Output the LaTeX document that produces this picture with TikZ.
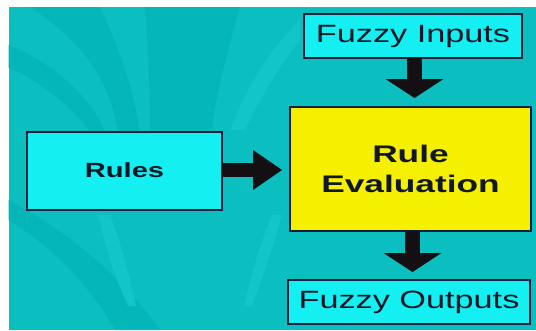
\documentclass[tikz,border=0pt]{standalone}
\usepackage{fontspec}
\usetikzlibrary{arrows.meta,calc}

% wide sans faces for the box labels
\newfontfamily\fuzzyfont[FakeStretch=1.37]{Liberation Sans}
\newfontfamily\rulesfont[FakeStretch=1.42]{Liberation Sans}
\newfontfamily\evalfont[FakeStretch=1.47]{Liberation Sans}

\definecolor{bgteal}{HTML}{0BBFC1}
\definecolor{banddark}{HTML}{05B6B9}
\definecolor{bandlight}{HTML}{12C5C6}
\definecolor{boxcyan}{HTML}{14F0F2}
\definecolor{evalyellow}{HTML}{F4F000}
\definecolor{edgecol}{HTML}{10203A}
\definecolor{inkcol}{HTML}{101828}
\definecolor{arrowcol}{HTML}{140F12}

\tikzset{
  block/.style={draw=edgecol, line width=1.3pt, inner sep=0pt, outer sep=0pt,
    text=inkcol, align=center},
  cyanbox/.style={block, fill=boxcyan},
  yellowbox/.style={block, fill=evalyellow},
  downarrow/.style={draw=arrowcol, line width=15pt,
    -{Triangle[width=58pt, length=19pt, line width=0pt]}},
  rightarrow/.style={draw=arrowcol, line width=14.5pt,
    -{Triangle[width=40pt, length=29pt, line width=0pt]}},
}

\begin{document}
\begin{tikzpicture}[x=1pt, y=-1pt]
\useasboundingbox (0,0) rectangle (536,330);
\fill[white] (0,0) rectangle (536,330);
\fill[bgteal] (8.5,7) rectangle (536,330);

% sweeping bands of the backdrop
\begin{scope}
  \clip (8.5,7) rectangle (536,330);
  \fill[banddark] (30,7) .. controls (80,40) and (112,80) .. (118,135)
    -- (140,135) .. controls (132,75) and (112,35) .. (100,7) -- cycle;
  \fill[banddark] (145,7) -- (240,7) .. controls (225,60) and (215,100) .. (212,130)
    -- (150,130) .. controls (150,90) and (148,50) .. (145,7) -- cycle;
  \fill[banddark] (8.5,220) .. controls (50,245) and (90,285) .. (115,330)
    -- (160,330) .. controls (125,280) and (70,232) .. (8.5,200) -- cycle;
  \fill[bandlight] (98,215) .. controls (106,250) and (116,280) .. (128,306)
    -- (136,306) .. controls (128,270) and (120,240) .. (110,215) -- cycle;
  \fill[bandlight] (282,215) .. controls (272,250) and (262,280) .. (252,306)
    -- (244,306) .. controls (252,270) and (262,240) .. (272,215) -- cycle;
  \fill[banddark] (8.5,45) .. controls (60,65) and (95,105) .. (105,132)
    -- (90,132) .. controls (75,110) and (40,80) .. (8.5,68) -- cycle;
  \fill[bandlight] (230,130) .. controls (250,80) and (270,50) .. (300,20)
    -- (300,40) .. controls (280,65) and (262,95) .. (245,130) -- cycle;
\end{scope}

% boxes
\node[cyanbox, minimum width=218pt, minimum height=44pt,
  font={\fontsize{25}{30}\fuzzyfont}] (inputs) at (413,36)
  {\raisebox{3pt}{Fuzzy Inputs}};
\node[yellowbox, minimum width=241pt, minimum height=124pt,
  font={\fontsize{24}{30}\evalfont\bfseries}] (eval) at (410.5,169)
  {Rule\\Evaluation};
\node[cyanbox, minimum width=195pt, minimum height=78pt,
  font={\fontsize{20.5}{25}\rulesfont\bfseries}] (rules) at (124.5,171)
  {\raisebox{2pt}{Rules}};
\node[cyanbox, minimum width=242pt, minimum height=44pt,
  font={\fontsize{25}{30}\fuzzyfont}] (outputs) at (409,302)
  {\raisebox{4pt}{Fuzzy Outputs}};

% block arrows between the boxes
\draw[downarrow, shorten >=9pt]
  ([xshift=1.5pt]inputs.south) -- ([xshift=1.5pt]inputs.south |- eval.north);
\draw[rightarrow, shorten >=8pt]
  ([yshift=1pt]rules.east) -- ([yshift=1pt]rules.east -| eval.west);
\draw[downarrow, shorten >=8pt]
  ([xshift=2pt]eval.south) -- ([xshift=2pt]eval.south |- outputs.north);
\end{tikzpicture}
\end{document}
